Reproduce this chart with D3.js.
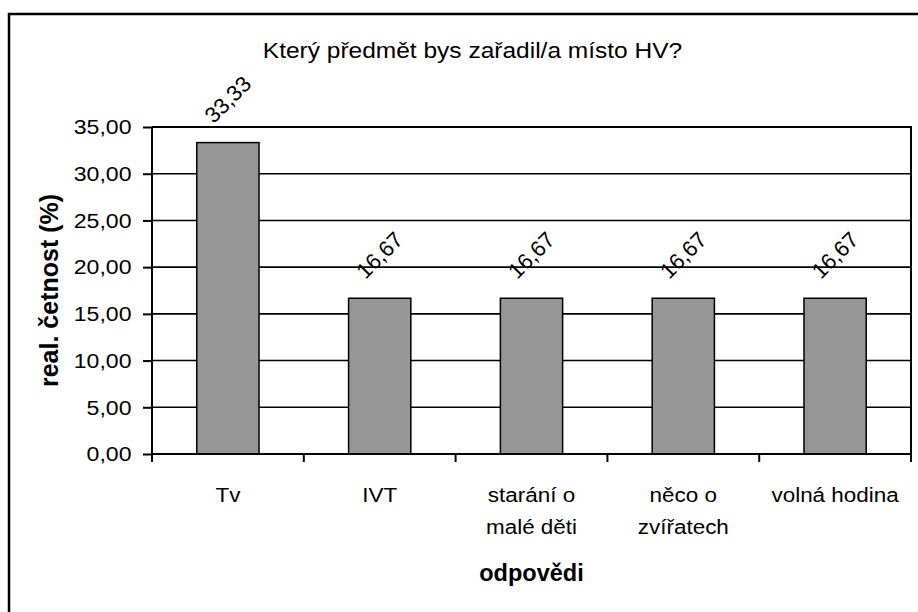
<!DOCTYPE html>
<html>
<head>
<meta charset="utf-8">
<script src="https://cdn.jsdelivr.net/npm/d3@7"></script>
<style>
  body { margin: 0; background: #fff; }
  svg { display: block; font-family: Arial, "Liberation Sans", sans-serif; }
</style>
</head>
<body>
<svg id="chart" width="918" height="612"></svg>
<script>
// data
const categories = ["Tv", "IVT", "starání o malé děti", "něco o zvířatech", "volná hodina"];
const categoryLines = [["Tv"], ["IVT"], ["starání o", "malé děti"], ["něco o", "zvířatech"], ["volná hodina"]];
const values = [33.33, 16.67, 16.67, 16.67, 16.67];
const yTicks = [0, 5, 10, 15, 20, 25, 30, 35];
const title = "Který předmět bys zařadil/a místo HV?";
const xTitle = "odpovědi";
const yTitle = "real. četnost (%)";

const W = 918, H = 612;
const margin = { top: 127, right: 7, bottom: 158, left: 152 };
const iw = W - margin.left - margin.right;
const ih = H - margin.top - margin.bottom;

// the original excel picture is a bit stretched sideways, so is its text
const sx = 1.1;

// czech number format, comma as decimal sign
const cz = d3.formatLocale({ decimal: ",", thousands: " ", grouping: [3], currency: ["", " Kč"] });
const fmt = cz.format(".2f");

const svg = d3.select("#chart");

// outer chart frame (runs off the right and bottom edge)
svg.append("rect")
  .attr("x", 9).attr("y", 14)
  .attr("width", 960).attr("height", 640)
  .attr("fill", "#fff")
  .attr("stroke", "#000")
  .attr("stroke-width", 2.5);

const g = svg.append("g").attr("transform", `translate(${margin.left},${margin.top})`);

const x = d3.scaleBand()
  .domain(categories)
  .range([0, iw])
  .paddingInner(0.59)
  .paddingOuter(0.295);

const y = d3.scaleLinear().domain([0, 35]).range([ih, 0]);

// gridlines
g.append("g")
  .selectAll("line")
  .data(yTicks.filter(d => d > 0 && d < 35))
  .join("line")
  .attr("x1", 0).attr("x2", iw)
  .attr("y1", d => y(d)).attr("y2", d => y(d))
  .attr("stroke", "#000")
  .attr("stroke-width", 1.6);

// plot frame top + right
g.append("path")
  .attr("d", `M0,${y(35)}H${iw}V${ih}`)
  .attr("fill", "none")
  .attr("stroke", "#000")
  .attr("stroke-width", 2);

// bars
g.append("g")
  .selectAll("rect")
  .data(values)
  .join("rect")
  .attr("x", (d, i) => x(categories[i]))
  .attr("y", d => y(d))
  .attr("width", x.bandwidth())
  .attr("height", d => y(0) - y(d))
  .attr("fill", "#969696")
  .attr("stroke", "#000")
  .attr("stroke-width", 1.5);

// y axis
const yAxis = g.append("g")
  .call(d3.axisLeft(y).tickValues(yTicks).tickFormat(fmt).tickSize(9).tickPadding(11));
yAxis.select(".domain").attr("stroke-width", 2).attr("d", `M0,0V${ih + 8}`);
yAxis.selectAll(".tick line").attr("stroke-width", 2);
yAxis.selectAll(".tick text")
  .attr("fill", "#000")
  .attr("font-size", 21)
  .attr("font-family", "Arial, 'Liberation Sans', sans-serif")
  .attr("x", -20.5 / sx)
  .attr("transform", `scale(${sx},1)`);

// x axis: ticks sit at category boundaries
const bounds = categories.map(c => x(c) - x.step() * x.paddingInner() / 2).concat([iw]);
const xAxis = g.append("g").attr("transform", `translate(0,${ih})`);
xAxis.append("line")
  .attr("x1", 0).attr("x2", iw)
  .attr("stroke", "#000").attr("stroke-width", 2);
xAxis.selectAll("line.tk")
  .data(bounds)
  .join("line")
  .attr("class", "tk")
  .attr("x1", d => d).attr("x2", d => d)
  .attr("y1", 0).attr("y2", 8)
  .attr("stroke", "#000").attr("stroke-width", 2);

const xl = xAxis.selectAll("text.cat")
  .data(categoryLines)
  .join("text")
  .attr("class", "cat")
  .attr("text-anchor", "middle")
  .attr("font-size", 21)
  .attr("fill", "#000")
  .attr("transform", (d, i) => `translate(${x(categories[i]) + x.bandwidth() / 2},47.5) scale(1.07,1)`);
xl.selectAll("tspan")
  .data(d => d)
  .join("tspan")
  .attr("x", 0)
  .attr("y", (d, i) => i * 33)
  .text(d => d);

// value labels, rotated
g.append("g")
  .selectAll("text")
  .data(values)
  .join("text")
  .attr("text-anchor", "middle")
  .attr("dominant-baseline", "central")
  .attr("font-size", 22)
  .attr("fill", "#000")
  .attr("transform", (d, i) => `translate(${x(categories[i]) + x.bandwidth() / 2},${y(d) - 43}) rotate(-45)`)
  .text(d => fmt(d));

// titles
svg.append("text")
  .attr("transform", "translate(472.5,57.5) scale(1.14,1)")
  .attr("text-anchor", "middle")
  .attr("font-size", 21.5)
  .text(title);

svg.append("text")
  .attr("x", margin.left + iw / 2).attr("y", 581)
  .attr("text-anchor", "middle")
  .attr("font-size", 23.5)
  .attr("font-weight", "bold")
  .text(xTitle);

svg.append("text")
  .attr("transform", `translate(58,${margin.top + ih / 2}) rotate(-90)`)
  .attr("text-anchor", "middle")
  .attr("font-size", 25)
  .attr("font-weight", "bold")
  .text(yTitle);
</script>
</body>
</html>
